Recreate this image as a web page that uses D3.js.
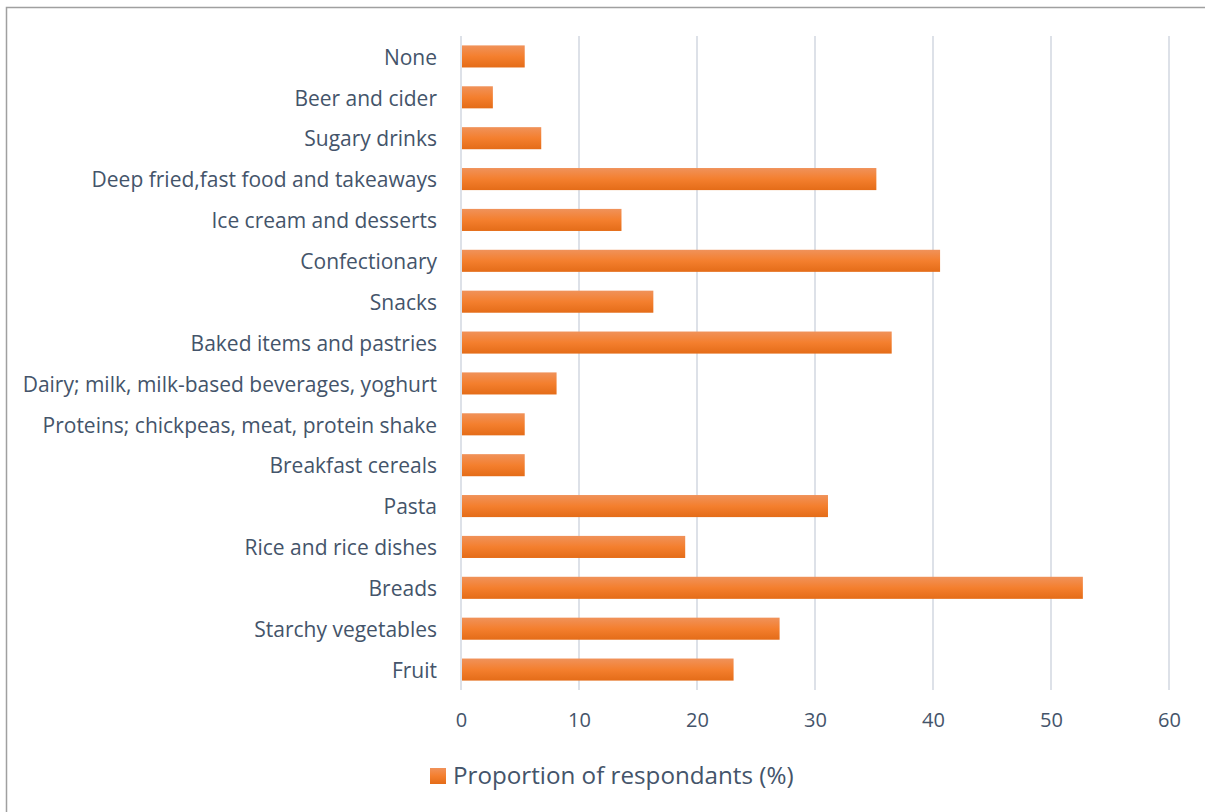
<!DOCTYPE html>
<html>
<head>
<meta charset="utf-8">
<script src="https://cdn.jsdelivr.net/npm/d3@7"></script>
<style>
  html, body { margin: 0; padding: 0; background: #fff; }
  svg { display: block; }
  text { font-family: "Open Sans", Lato, sans-serif; fill: #44546a; }
</style>
</head>
<body>
<svg id="chart" width="1205" height="812"></svg>
<script>
// Food groups, listed top to bottom
const categories = [
  "None",
  "Beer and cider",
  "Sugary drinks",
  "Deep fried,fast food and takeaways",
  "Ice cream and desserts",
  "Confectionary",
  "Snacks",
  "Baked items and pastries",
  "Dairy; milk, milk-based beverages, yoghurt",
  "Proteins; chickpeas, meat, protein shake",
  "Breakfast cereals",
  "Pasta",
  "Rice and rice dishes",
  "Breads",
  "Starchy vegetables",
  "Fruit"
];
// Proportion of respondents (%)
const values = [5.4, 2.7, 6.8, 35.2, 13.6, 40.6, 16.3, 36.5, 8.1, 5.4, 5.4, 31.1, 19.0, 52.7, 27.0, 23.1];
const xTicks = [0, 10, 20, 30, 40, 50, 60];
const seriesName = "Proportion of respondants (%)";

const svg = d3.select("#chart");

// outer frame
svg.append("path")
  .attr("d", "M6.5,812 L6.5,7.5 L1205,7.5")
  .attr("fill", "none")
  .attr("stroke", "#a0a0a0")
  .attr("stroke-width", 1.5);

const plot = { left: 461, right: 1169, top: 36, bottom: 690 };

const x = d3.scaleLinear().domain([0, 60]).range([plot.left, plot.right]);
const y = d3.scaleBand().domain(categories).range([plot.top, plot.bottom]).paddingInner(0.46).paddingOuter(0.23);

// bar gradient
const defs = svg.append("defs");
const grad = defs.append("linearGradient").attr("id", "barGrad")
  .attr("x1", 0).attr("y1", 0).attr("x2", 0).attr("y2", 1);
grad.append("stop").attr("offset", "0%").attr("stop-color", "#f0925a");
grad.append("stop").attr("offset", "50%").attr("stop-color", "#f47f2e");
grad.append("stop").attr("offset", "100%").attr("stop-color", "#e46c18");

// vertical gridlines
svg.append("g")
  .selectAll("line")
  .data(xTicks)
  .join("line")
  .attr("x1", d => x(d)).attr("x2", d => x(d))
  .attr("y1", plot.top).attr("y2", plot.bottom)
  .attr("stroke", "#dde1e8")
  .attr("stroke-width", 2);

// x-axis tick labels
const xAxis = d3.axisBottom(x).tickValues(xTicks).tickSize(0).tickPadding(0);
const gx = svg.append("g").attr("transform", `translate(0,${plot.bottom + 23})`).call(xAxis);
gx.select(".domain").remove();
gx.selectAll("text")
  .attr("font-size", 20)
  .attr("dy", "0.71em")
  .style("fill", "#44546a")
  .style("font-family", "'Open Sans', Lato, sans-serif");

// category labels
const yAxis = d3.axisLeft(y).tickSize(0).tickPadding(24);
const gy = svg.append("g").attr("transform", `translate(${plot.left},1.5)`).call(yAxis);
gy.select(".domain").remove();
gy.selectAll("text")
  .attr("font-size", 21)
  .style("fill", "#44546a")
  .style("font-family", "'Open Sans', Lato, sans-serif");

// bars
svg.append("g")
  .selectAll("rect")
  .data(categories.map((c, i) => ({ c, v: values[i] })))
  .join("rect")
  .attr("x", x(0) + 1)
  .attr("y", d => y(d.c))
  .attr("width", d => x(d.v) - x(0) - 1)
  .attr("height", y.bandwidth())
  .attr("fill", "url(#barGrad)");

// legend
const legend = svg.append("g").attr("transform", "translate(430,768)");
legend.append("rect").attr("width", 16).attr("height", 16).attr("fill", "url(#barGrad)");
legend.append("text")
  .attr("x", 23).attr("y", 8).attr("dy", "0.35em")
  .attr("font-size", 24.2)
  .text(seriesName);
</script>
</body>
</html>
